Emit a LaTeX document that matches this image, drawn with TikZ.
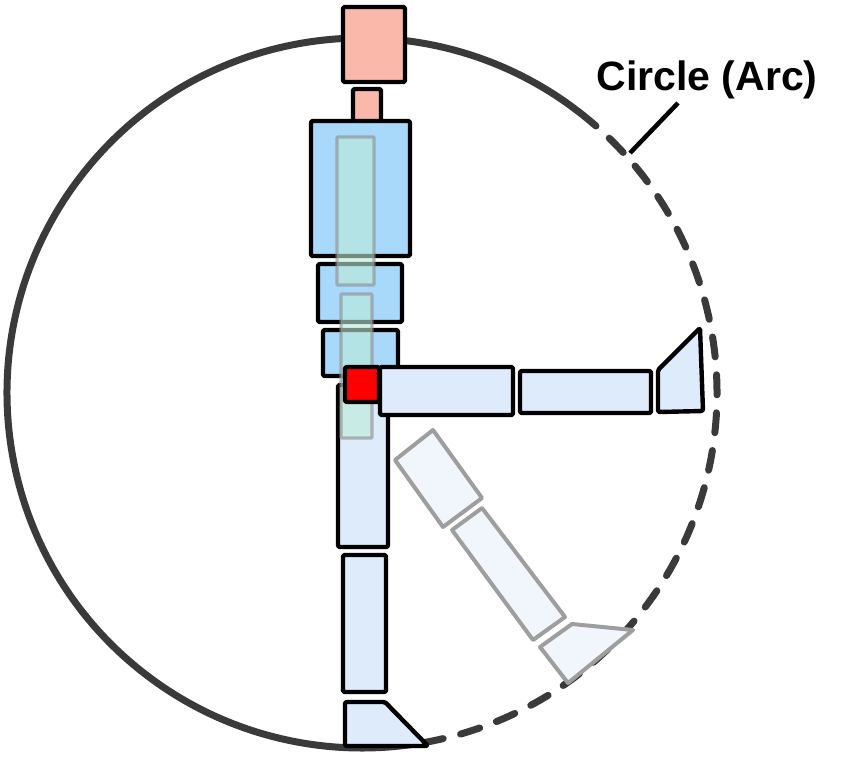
\documentclass[tikz,border=0pt]{standalone}
\usepackage{fontspec}
\setmainfont{Liberation Sans}
\begin{document}
\begin{tikzpicture}[x=1pt,y=-1pt,
  part/.style={draw=black,line width=4.4pt,rounded corners=1.5pt,line join=round},
  ghost/.style={draw=black!38,line width=4pt,fill=ghostfill,line join=round},
  inner/.style={draw=black!45,line width=3.4pt,fill=innerfill,fill opacity=0.6,draw opacity=0.6,rounded corners=1pt},
  circ/.style={draw=circcol,line width=7pt}]
\definecolor{skin}{HTML}{F9B8AA}
\definecolor{torso}{HTML}{A8D8FA}
\definecolor{limb}{HTML}{DDEBFA}
\definecolor{ghostfill}{HTML}{F1F6FD}
\definecolor{innerfill}{HTML}{BDEBD8}
\definecolor{circcol}{HTML}{3A3A3A}
\useasboundingbox (0,0) rectangle (850,768);
% circle
\coordinate (c) at (362,393);
\draw[circ] ([shift={(-52:355)}]c) arc[start angle=-52,end angle=-281,radius=355];
\draw[circ,dash pattern=on 20pt off 18pt,line cap=round] ([shift={(-52:355)}]c) arc[start angle=-52,end angle=79,radius=355];
% ghost leg
\draw[ghost] (395,460) -- (443,527) -- (482,498) -- (433,430) -- cycle;
\fill[white,opacity=0.85] (386,410) -- (430,420) -- (397,456) -- cycle;
\draw[ghost] (452,530) -- (533,640) -- (565,617) -- (482,508) -- cycle;
\draw[ghost] (540,647) -- (568,683) -- (633,630) -- (572,624) -- cycle;
% standing leg
\draw[part,fill=limb] (338,385) rectangle (388,547);
\draw[part,fill=limb] (343,555) rectangle (386,692);
\draw[part,fill=limb] (345,746) -- (345,702) -- (385,702) -- (428,746) -- cycle;
% head, torso
\draw[part,fill=skin] (343,7) rectangle (405,82);
\draw[part,fill=skin] (353,89) rectangle (381,123);
\draw[part,fill=torso] (311,121) rectangle (410,256);
\draw[part,fill=torso] (318,264) rectangle (402,322);
\draw[part,fill=torso] (323,330) rectangle (398,376);
% raised leg
\draw[part,fill=limb] (380,367) rectangle (513,415);
\draw[part,fill=limb] (520,371) rectangle (651,413);
\draw[part,fill=limb] (658,412) -- (658,370) -- (700,328) -- (703,411) -- cycle;
% inner spine bars
\draw[inner] (337,137) rectangle (374,285);
\draw[inner] (341,294) rectangle (372,438);
% hip joint
\draw[part,fill=red] (345,367) rectangle (379,402);
% label
\node[font=\bfseries\fontsize{41}{46}\selectfont] (lab) at (707,80) {Circle (Arc)};
\coordinate (lt) at (678,103);
\coordinate (lb) at (630,153);
\draw[line width=4.5pt] (lt) -- (lb);
\end{tikzpicture}
\end{document}
